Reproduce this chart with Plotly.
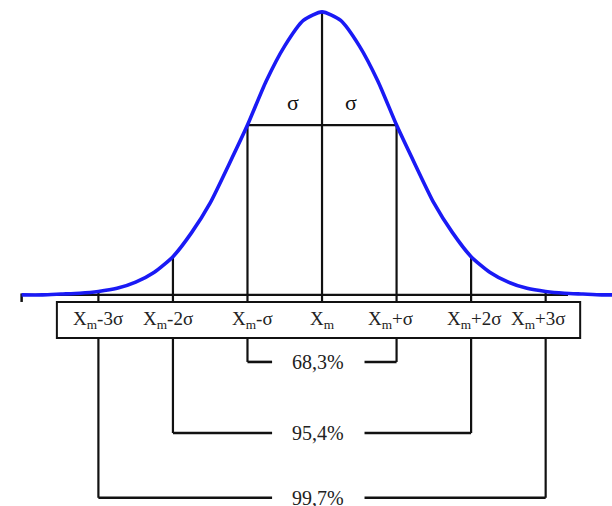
import plotly.graph_objects as go

# ---- data ----
# curve: x in sigma units from the mean, y = relative height (peak = 1)
curve_x = [-4.03, -3.75, -3.5, -3.25, -3.0, -2.75, -2.5, -2.25, -2.0, -1.75, -1.5, -1.25, -1.0,
           -0.75, -0.5, -0.25, 0.0, 0.25, 0.5, 0.75, 1.0, 1.25, 1.5, 1.75, 2.0, 2.25, 2.5,
           2.75, 3.0, 3.25, 3.5, 3.75, 3.95]
curve_y = [0.0, 0.0, 0.003, 0.006, 0.012, 0.023, 0.045, 0.08, 0.135, 0.22, 0.325, 0.46, 0.6,
           0.755, 0.88, 0.97, 1.0, 0.97, 0.88, 0.755, 0.6, 0.46, 0.325, 0.22, 0.135, 0.08, 0.045,
           0.023, 0.012, 0.006, 0.003, 0.0, 0.0]

sigma_pos = [-3, -2, -1, 0, 1, 2, 3]
tick_labels = ["X<sub>m</sub>-3σ", "X<sub>m</sub>-2σ", "X<sub>m</sub>-σ", "X<sub>m</sub>",
               "X<sub>m</sub>+σ", "X<sub>m</sub>+2σ", "X<sub>m</sub>+3σ"]
label_x = [-3.0, -2.06, -0.93, 0.0, 0.92, 2.04, 2.9]

bracket_k = [1, 2, 3]
bracket_text = ["68,3%", "95,4%", "99,7%"]
bracket_level = [-0.237, -0.488, -0.717]

# ---- layout constants ----
BLACK = "#111111"
BLUE = "#1a1af5"
FONT = "Liberation Serif, Times New Roman, serif"
box_y0, box_y1 = -0.152, -0.025
box_x0, box_x1 = -3.557, 3.463
gap_l, gap_r = -0.67, 0.57

def height_at(x):
    return curve_y[curve_x.index(float(x))]

fig = go.Figure()
shapes = []
line_w = 2.2

# baseline
shapes.append(dict(type="line", x0=-4.03, x1=3.3, y0=0, y1=0,
                   line=dict(color=BLACK, width=line_w), layer="below"))
# left end tick
shapes.append(dict(type="line", x0=-4.03, x1=-4.03, y0=0.005, y1=-0.025,
                   line=dict(color=BLACK, width=2.5), layer="below"))

# vertical lines from curve down
for p in sigma_pos:
    top = height_at(p)
    if p == 0:
        bottom = box_y1
    else:
        bottom = bracket_level[abs(p) - 1]
    shapes.append(dict(type="line", x0=p, x1=p, y0=top, y1=bottom,
                       line=dict(color=BLACK, width=line_w), layer="below"))

# sigma horizontal line
shapes.append(dict(type="line", x0=-1, x1=1, y0=height_at(1), y1=height_at(1),
                   line=dict(color=BLACK, width=line_w), layer="below"))

# brackets
for k, lvl in zip(bracket_k, bracket_level):
    shapes.append(dict(type="line", x0=-k, x1=gap_l, y0=lvl, y1=lvl,
                       line=dict(color=BLACK, width=2.6), layer="below"))
    shapes.append(dict(type="line", x0=gap_r, x1=k, y0=lvl, y1=lvl,
                       line=dict(color=BLACK, width=2.6), layer="below"))

# box with labels
shapes.append(dict(type="rect", x0=box_x0, x1=box_x1, y0=box_y0, y1=box_y1,
                   line=dict(color=BLACK, width=2), fillcolor="white", layer="above"))

fig.add_trace(go.Scatter(x=curve_x, y=curve_y, mode="lines",
                         line=dict(color=BLUE, width=3.6, shape="spline", smoothing=0.6),
                         hoverinfo="skip", showlegend=False))

annotations = []
for lx, t in zip(label_x, tick_labels):
    annotations.append(dict(x=lx, y=(box_y0 + box_y1) / 2, text=t, showarrow=False,
                            font=dict(family=FONT, size=19, color="#222222"),
                            xanchor="center", yanchor="middle"))
for lvl, t in zip(bracket_level, bracket_text):
    annotations.append(dict(x=(gap_l + gap_r) / 2, y=lvl, text=t, showarrow=False,
                            font=dict(family=FONT, size=20, color="#222222"),
                            xanchor="center", yanchor="middle"))
for sx in [-0.39, 0.39]:
    annotations.append(dict(x=sx, y=0.68, text="σ", showarrow=False,
                            font=dict(family=FONT, size=22, color="#111111"),
                            xanchor="center", yanchor="middle"))

fig.update_layout(
    width=612, height=506,
    margin=dict(l=0, r=0, t=0, b=0),
    paper_bgcolor="white", plot_bgcolor="white",
    xaxis=dict(range=[-4.32, 3.89], visible=False, fixedrange=True),
    yaxis=dict(range=[-0.746, 1.042], visible=False, fixedrange=True),
    shapes=shapes, annotations=annotations, showlegend=False,
)

# remove the page's default body margin so the figure fills the window exactly
fig.write_html(
    "out.html",
    config={"displayModeBar": False},
    post_script="document.body.style.margin='0';document.body.style.overflow='hidden';",
)
